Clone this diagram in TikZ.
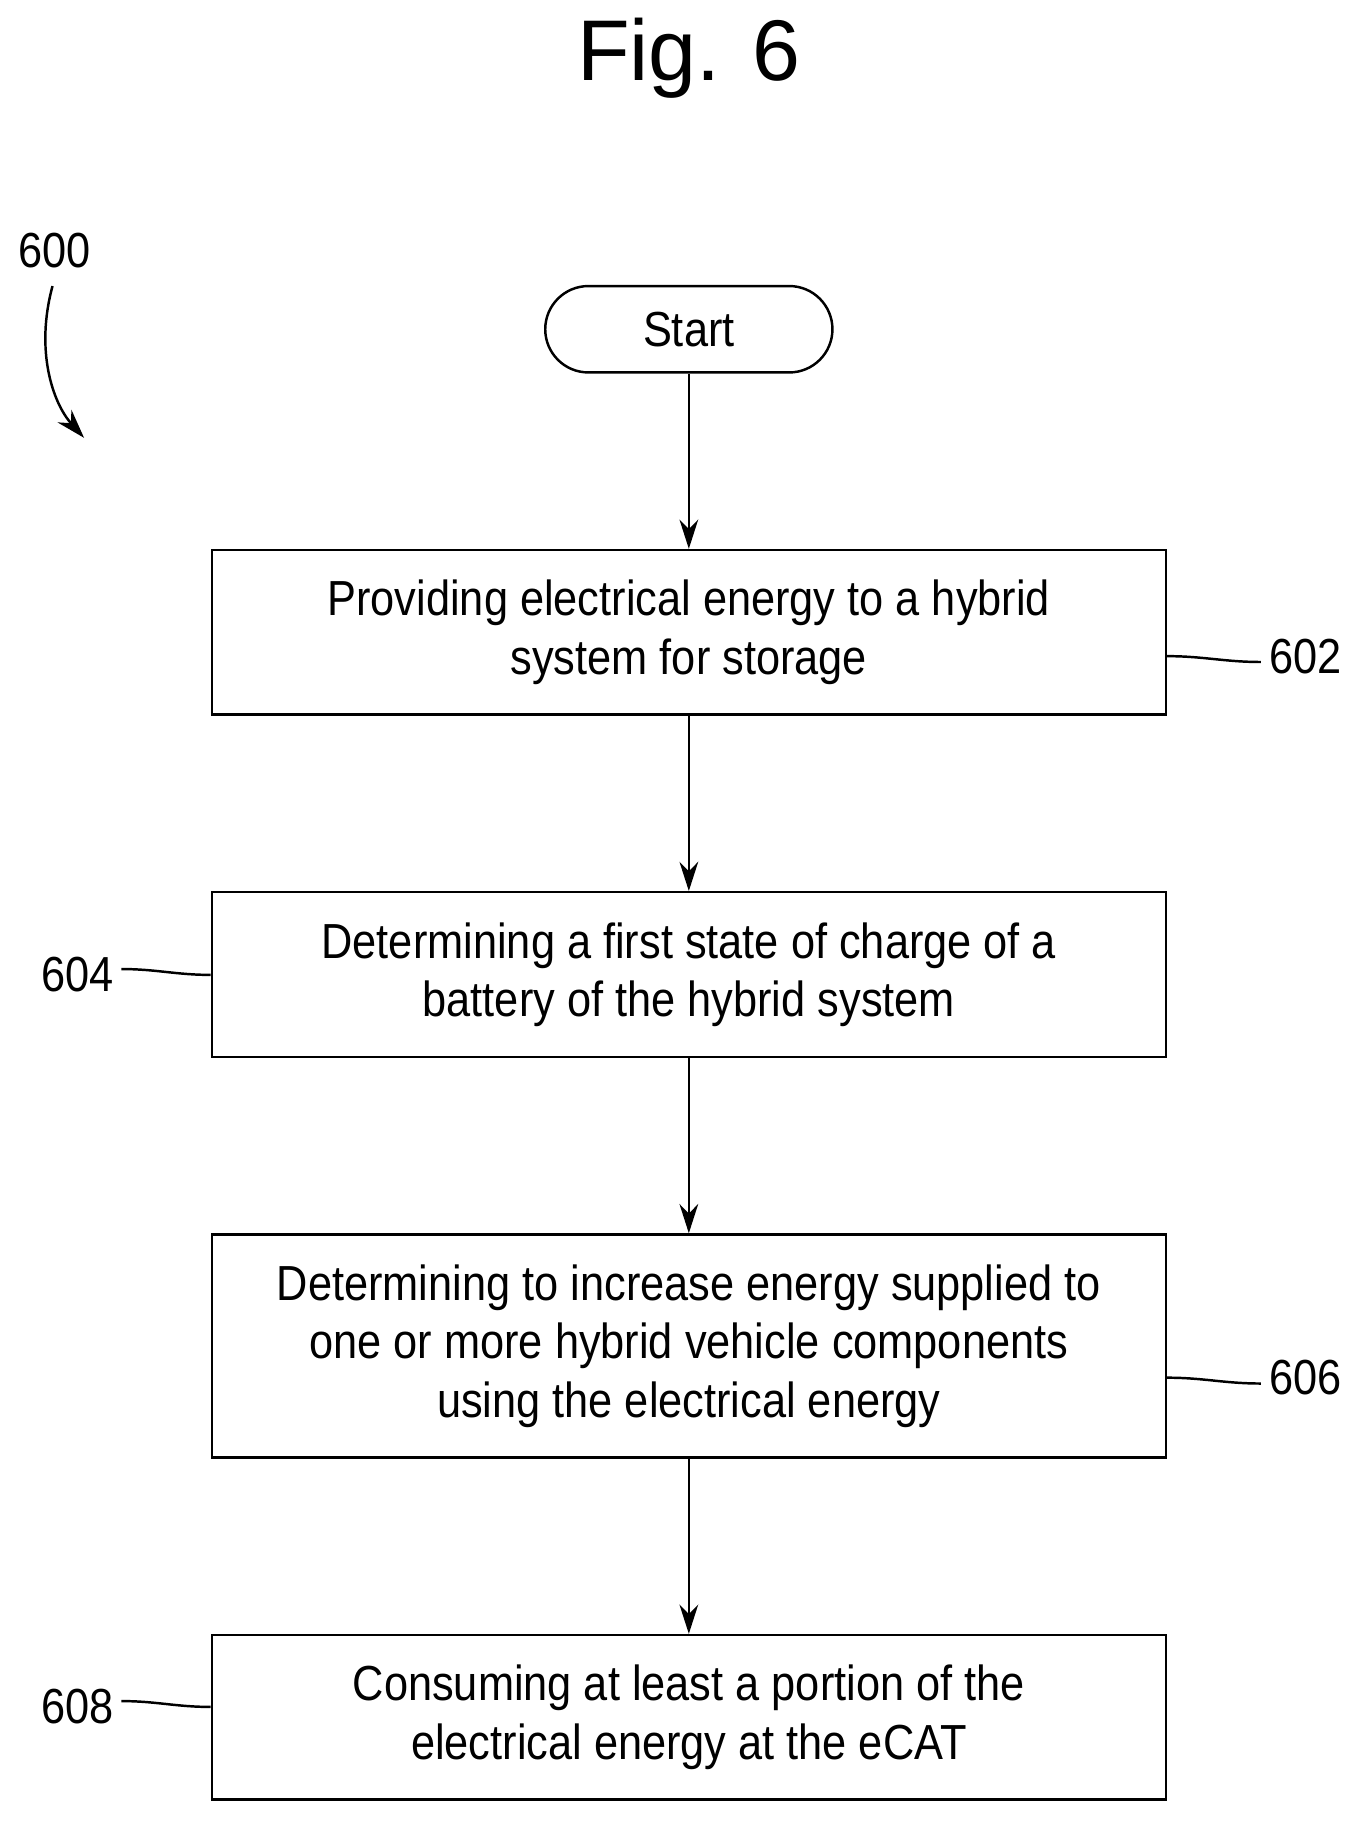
\documentclass[tikz,border=0pt]{standalone}
\usepackage{fontspec}
\setmainfont{Liberation Sans}[FakeStretch=0.88]
\newfontfamily\titlefont{Liberation Sans}
\usetikzlibrary{positioning,arrows.meta}

\begin{document}
\begin{tikzpicture}[line width=1.2pt,
  node distance=3.0cm,
  stepbox/.style={draw,minimum width=16.34cm,minimum height=2.82cm,align=center,
    font=\fontsize{24}{28.5}\selectfont},
  startnode/.style={draw,rounded corners=0.74cm,minimum width=4.92cm,minimum height=1.48cm,
    font=\fontsize{24}{28.5}\selectfont},
  flow/.style={-{Stealth[length=5mm,width=3.2mm]}},
  reflabel/.style={font=\fontsize{24}{28.5}\selectfont}
]
\useasboundingbox (0,0) rectangle (23.2,-31.28);

% title
\node[font=\titlefont\fontsize{42}{50}\selectfont] (title) at (11.8,-1.0) {Fig. 6};

% reference of the whole flow
\node[reflabel] (ref600) at (0.94,-4.3) {600};
\coordinate (ref600end) at (1.44,-7.5);
\draw[flow] (0.9,-4.9) .. controls (0.6,-6.0) and (0.9,-6.9) .. (ref600end);

% the steps
\node[startnode] (start) at (11.8,-5.64) {Start};
\node[stepbox,below=of start] (s602) {Providing electrical energy to a hybrid\\system for storage};
\node[stepbox,below=of s602] (s604) {Determining a first state of charge of a\\battery of the hybrid system};
\node[stepbox,below=of s604,minimum height=3.82cm] (s606) {Determining to increase energy supplied to\\one or more hybrid vehicle components\\using the electrical energy};
\node[stepbox,below=of s606] (s608) {Consuming at least a portion of the\\electrical energy at the eCAT};

% the connectors
\draw[flow] (start) -- (s602);
\draw[flow] (s602) -- (s604);
\draw[flow] (s604) -- (s606);
\draw[flow] (s606) -- (s608);

% the reference numerals
\node[reflabel,anchor=west] (ref602) at (21.6,-11.24) {602};
\node[reflabel,anchor=east] (ref604) at (2.08,-16.7) {604};
\node[reflabel,anchor=west] (ref606) at (21.6,-23.6) {606};
\node[reflabel,anchor=east] (ref608) at (2.08,-29.24) {608};
\draw (s602.east |- ref602) to[out=0,in=180] ([yshift=-1mm]ref602.west);
\draw (s604.west |- ref604) to[out=180,in=0] ([yshift=1mm]ref604.east);
\draw (s606.east |- ref606) to[out=0,in=180] ([yshift=-1mm]ref606.west);
\draw (s608.west |- ref608) to[out=180,in=0] ([yshift=1mm]ref608.east);

\end{tikzpicture}
\end{document}
